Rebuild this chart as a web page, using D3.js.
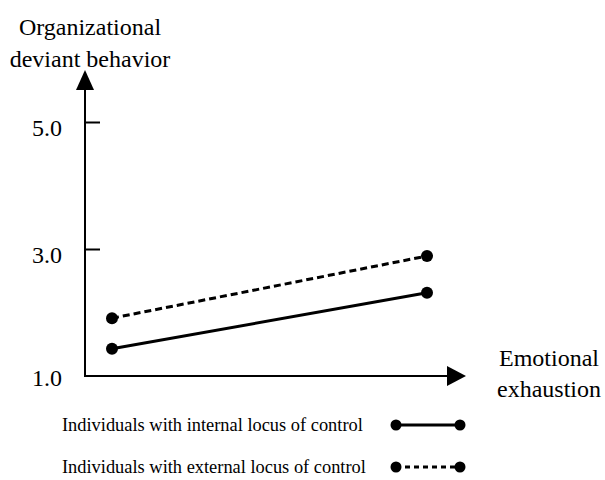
<!DOCTYPE html>
<html>
<head>
<meta charset="utf-8">
<script src="https://cdn.jsdelivr.net/npm/d3@7"></script>
<style>
  html, body { margin: 0; padding: 0; background: #fff; }
  svg { display: block; }
  text { font-family: "Liberation Serif", "Times New Roman", serif; fill: #000; }
</style>
</head>
<body>
<svg id="chart" width="605" height="480"></svg>
<script>
// ---- data ----
const levels = ["Low", "High"];                 // emotional exhaustion levels
const internalValues = [1.43, 2.31];            // internal locus of control
const externalValues = [1.91, 2.89];            // external locus of control
const yTicks = [1.0, 3.0, 5.0];
const seriesNames = ["Individuals with internal locus of control",
                     "Individuals with external locus of control"];
const yTitle = ["Organizational", "deviant behavior"];
const xTitle = ["Emotional", "exhaustion"];

const series = [
  { name: seriesNames[0], values: internalValues, dash: null },
  { name: seriesNames[1], values: externalValues, dash: "7,4" }
];

// ---- layout ----
const svg = d3.select("#chart");
const originX = 85, originY = 376;
const y = d3.scaleLinear().domain([1, 5]).range([originY, 122]);
const x = d3.scalePoint().domain(levels).range([112, 427]);

// y axis with ticks pointing inward
const yAxis = d3.axisLeft(y)
  .tickValues(yTicks)
  .tickFormat(d3.format(".1f"))
  .tickSizeInner(-15)
  .tickSizeOuter(0)
  .tickPadding(23);

const gy = svg.append("g").attr("transform", `translate(${originX},0)`).call(yAxis);
gy.select(".domain").remove();
gy.selectAll(".tick line").attr("stroke", "#000").attr("stroke-width", 2)
  .filter(d => d === 1).remove();
gy.selectAll(".tick text")
  .attr("font-family", "Liberation Serif")
  .attr("font-size", 24)
  .attr("dy", d => d === 1 ? "0.4em" : "0.55em");

// axes lines with arrows
svg.append("line").attr("x1", originX).attr("y1", originY + 1).attr("x2", originX).attr("y2", 85)
  .attr("stroke", "#000").attr("stroke-width", 2);
svg.append("path")
  .attr("d", `M${originX},70 L${originX - 9},90 L${originX + 9},90 Z`).attr("fill", "#000");
svg.append("line").attr("x1", originX - 1).attr("y1", originY).attr("x2", 452).attr("y2", originY)
  .attr("stroke", "#000").attr("stroke-width", 2);
svg.append("path")
  .attr("d", `M466,${originY} L447,${originY - 10} L447,${originY + 10} Z`).attr("fill", "#000");

// axis titles
svg.append("text").attr("x", 90).attr("y", 35).attr("text-anchor", "middle")
  .attr("font-size", 24)
  .selectAll("tspan").data(yTitle).join("tspan")
  .attr("x", 90).attr("dy", (d, i) => i ? 32 : 0).text(d => d);

svg.append("text").attr("x", 549).attr("y", 366).attr("text-anchor", "middle")
  .attr("font-size", 24)
  .selectAll("tspan").data(xTitle).join("tspan")
  .attr("x", 549).attr("dy", (d, i) => i ? 31 : 0).text(d => d);

// lines
const line = d3.line().x((d, i) => x(levels[i])).y(d => y(d));
series.forEach(s => {
  svg.append("path").attr("d", line(s.values))
    .attr("fill", "none").attr("stroke", "#000").attr("stroke-width", 3)
    .attr("stroke-dasharray", s.dash);
  svg.selectAll(null).data(s.values).join("circle")
    .attr("cx", (d, i) => x(levels[i])).attr("cy", d => y(d))
    .attr("r", 6).attr("fill", "#000");
});

// legend
const legend = svg.append("g");
const legY = [425, 467];
series.forEach((s, i) => {
  const g = legend.append("g").attr("transform", `translate(0,${legY[i]})`);
  g.append("text").attr("x", 62).attr("y", 0).attr("dy", "0.35em")
    .attr("font-size", 18.4).text(s.name);
  g.append("line").attr("x1", 396).attr("x2", 460).attr("y1", 0).attr("y2", 0)
    .attr("stroke", "#000").attr("stroke-width", 3).attr("stroke-dasharray", s.dash ? "5,4" : null);
  g.selectAll("circle").data([396, 460]).join("circle")
    .attr("cx", d => d).attr("cy", 0).attr("r", 5.5).attr("fill", "#000");
});
</script>
</body>
</html>
